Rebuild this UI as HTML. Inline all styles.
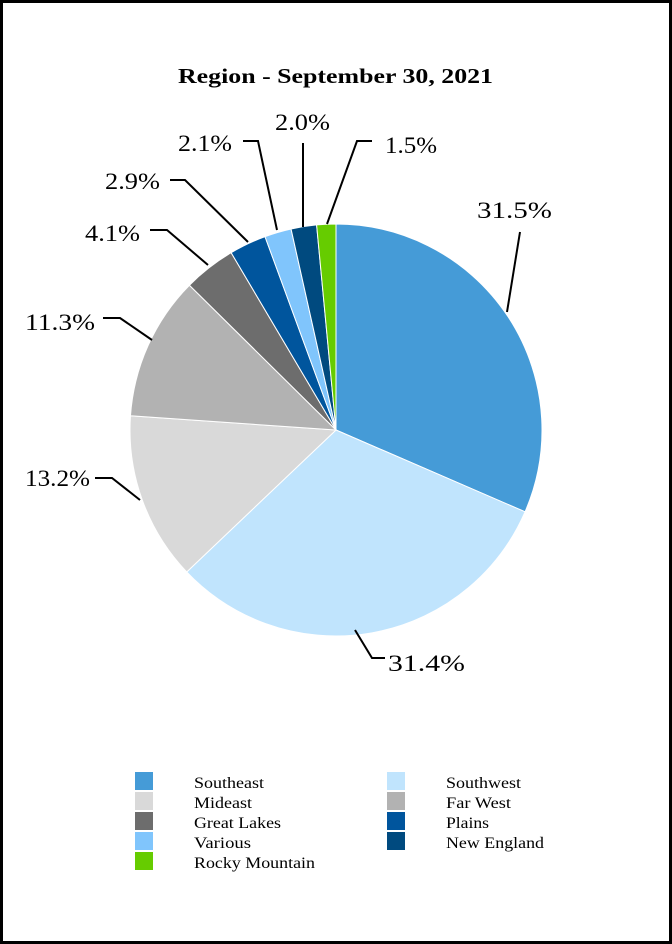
<!DOCTYPE html>
<html><head><style>
html,body{margin:0;padding:0;background:#fff}
svg{display:block}
text{font-family:"Liberation Serif",serif;fill:#000}
</style></head><body>
<svg id="s" width="672" height="944" viewBox="0 0 672 944" xmlns="http://www.w3.org/2000/svg">
<rect x="1.5" y="1.5" width="669" height="941" fill="#fff" stroke="#000" stroke-width="3"/>
<text x="178" y="83" font-size="21" font-weight="bold" textLength="315" lengthAdjust="spacingAndGlyphs">Region - September 30, 2021</text>
<g id="pie"></g>
<g stroke="#000" stroke-width="2" fill="none">
<polyline points="507,312 520,232"/>
<polyline points="355,630 372,658 385,658"/>
<polyline points="95,478 112,478 140,500"/>
<polyline points="103,318 120,318 152,340"/>
<polyline points="150,230 167,230 208,265"/>
<polyline points="170,180 185,180 248,242"/>
<polyline points="243,141 258,141 277,230"/>
<polyline points="303,143 303,227"/>
<polyline points="372,141 357,141 327,224"/>
</g>
<g font-size="23" lengthAdjust="spacingAndGlyphs">
<text x="477" y="218" textLength="75" lengthAdjust="spacingAndGlyphs">31.5%</text>
<text x="388" y="671" textLength="77" lengthAdjust="spacingAndGlyphs">31.4%</text>
<text x="25" y="486" textLength="65" lengthAdjust="spacingAndGlyphs">13.2%</text>
<text x="25" y="330" textLength="70" lengthAdjust="spacingAndGlyphs">11.3%</text>
<text x="85" y="241" textLength="55" lengthAdjust="spacingAndGlyphs">4.1%</text>
<text x="105" y="189" textLength="55" lengthAdjust="spacingAndGlyphs">2.9%</text>
<text x="178" y="151" textLength="54" lengthAdjust="spacingAndGlyphs">2.1%</text>
<text x="275" y="130" textLength="55" lengthAdjust="spacingAndGlyphs">2.0%</text>
<text x="385" y="153" textLength="52" lengthAdjust="spacingAndGlyphs">1.5%</text>
</g>
<g font-size="16">
<rect x="135" y="772" width="18" height="18" fill="#459bd7"/><text x="194" y="788" textLength="70" lengthAdjust="spacingAndGlyphs">Southeast</text>
<rect x="135" y="792" width="18" height="18" fill="#d9d9d9"/><text x="194" y="808" textLength="58" lengthAdjust="spacingAndGlyphs">Mideast</text>
<rect x="135" y="812" width="18" height="18" fill="#6d6d6d"/><text x="194" y="828" textLength="87" lengthAdjust="spacingAndGlyphs">Great Lakes</text>
<rect x="135" y="832" width="18" height="18" fill="#80c5fc"/><text x="194" y="848" textLength="57" lengthAdjust="spacingAndGlyphs">Various</text>
<rect x="135" y="852" width="18" height="18" fill="#66cc00"/><text x="194" y="868" textLength="121" lengthAdjust="spacingAndGlyphs">Rocky Mountain</text>
<rect x="387" y="772" width="18" height="18" fill="#c0e4fd"/><text x="446" y="788" textLength="75" lengthAdjust="spacingAndGlyphs">Southwest</text>
<rect x="387" y="792" width="18" height="18" fill="#b2b2b2"/><text x="446" y="808" textLength="65" lengthAdjust="spacingAndGlyphs">Far West</text>
<rect x="387" y="812" width="18" height="18" fill="#00559d"/><text x="446" y="828" textLength="43" lengthAdjust="spacingAndGlyphs">Plains</text>
<rect x="387" y="832" width="18" height="18" fill="#004a7f"/><text x="446" y="848" textLength="98" lengthAdjust="spacingAndGlyphs">New England</text>
</g>
</svg>
<script>
var d=[[31.5,"#459bd7"],[31.4,"#c0e4fd"],[13.2,"#d9d9d9"],[11.3,"#b2b2b2"],[4.1,"#6d6d6d"],[2.9,"#00559d"],[2.1,"#80c5fc"],[2.0,"#004a7f"],[1.5,"#66cc00"]];
var cx=336,cy=430,r=206,tot=0;d.forEach(function(x){tot+=x[0]});
var a=0,h="";
d.forEach(function(x){var b=a+x[0]/tot*2*Math.PI;
var x1=cx+r*Math.sin(a),y1=cy-r*Math.cos(a),x2=cx+r*Math.sin(b),y2=cy-r*Math.cos(b);
h+='<path d="M'+cx+','+cy+'L'+x1+','+y1+'A'+r+','+r+' 0 '+(b-a>Math.PI?1:0)+' 1 '+x2+','+y2+'Z" fill="'+x[1]+'" stroke="#fff" stroke-width="1"/>';a=b;});
document.getElementById("pie").innerHTML=h;
</script>
</body></html>
